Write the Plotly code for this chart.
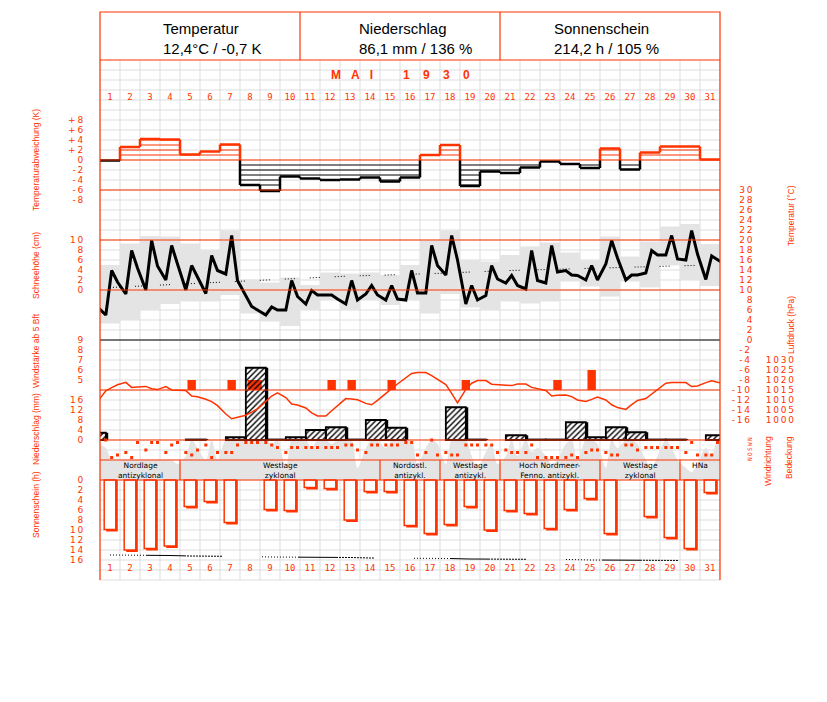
import plotly.graph_objects as go

RED = "#ff3300"
GRID = "#dddddd"
FILLGRAY = "#e4e4e4"
NB = "\u00a0"
THIN = "\u2009"
FIG = "\u2007"

# ------------------------------------------------------------------ data
days = list(range(1, 32))
day_labels = [str(d) for d in days]
obs_hours = [7, 14, 21]

header_titles = ["Temperatur", "Niederschlag", "Sonnenschein"]
header_values = ["12,4°C / -0,7 K", "86,1 mm / 136 %", "214,2 h / 105 %"]
month_title = ("MAI", "1930")

# daily temperature deviation (K)
temp_dev = [-0.1, 2.6, 4.2, 4.1, 1.1, 1.7, 3.1, -5.0, -6.2, -3.3, -3.7, -4.0, -3.9, -3.5, -4.3,
            -3.5, 1.0, 3.0, -5.2, -2.3, -2.6, -1.5, -0.3, -0.8, -1.6, 2.3, -1.9, 1.5, 2.7, 2.7, 0.1]

# air temperature at 7, 14, 21 h (°C)
t07 = [5.0, 9.2, 10.0, 12.0, 10.0, 9.3, 13.2, 8.9, 5.0, 6.0, 7.2, 9.0, 7.2, 9.2, 8.0, 8.0,
       9.4, 13.0, 7.2, 8.9, 11.4, 10.2, 11.4, 13.9, 12.0, 15.2, 12.0, 13.4, 17.0, 16.0, 12.1]
t14 = [13.9, 17.9, 19.9, 18.9, 14.9, 16.9, 20.9, 6.7, 6.6, 11.9, 9.9, 9.0, 11.9, 10.9, 10.9, 13.9,
       18.9, 20.9, 10.9, 14.9, 12.9, 17.9, 18.9, 13.0, 14.9, 19.9, 13.0, 17.9, 20.9, 21.9, 16.8]
t21 = [11.6, 14.4, 14.8, 15.2, 12.5, 13.9, 11.9, 6.0, 6.0, 8.7, 9.0, 8.2, 8.0, 9.0, 8.2, 9.4,
       14.9, 16.0, 8.0, 12.2, 10.9, 11.9, 13.6, 12.9, 12.0, 16.4, 13.0, 17.0, 16.2, 17.2, 16.0]
t_prev21 = 6.6   # 30 April, 21 h
t_next07 = 15.0  # 1 June, 7 h
tmax = [15.0, 19.3, 20.8, 20.7, 19.3, 18.0, 21.9, 12.1, 11.5, 12.5, 11.0, 13.5, 13.3, 13.5, 13.0, 15.0,
        19.9, 21.9, 16.0, 15.7, 17.0, 18.7, 19.5, 17.5, 15.9, 20.7, 16.7, 19.7, 22.7, 23.2, 19.2]
tmin = [3.3, 4.0, 6.0, 7.2, 7.7, 7.7, 9.0, 5.3, 3.7, 2.8, 6.0, 8.0, 6.0, 8.0, 7.0, 8.0,
        5.3, 9.2, 6.5, 6.0, 7.7, 7.3, 7.7, 11.7, 10.7, 8.7, 11.7, 10.5, 14.9, 12.0, 10.8]
t_normal = [10.5, 10.7, 10.9, 11.0, 11.2, 11.4, 11.6, 11.8, 12.0, 12.2, 12.4, 12.6, 12.8, 12.9, 13.0, 13.2,
            13.3, 13.4, 13.6, 13.8, 13.9, 14.0, 14.1, 14.2, 14.4, 14.5, 14.6, 14.7, 14.8, 14.9, 15.0]

# air pressure at 7, 14, 21 h (hPa)
p07 = [1014.6, 1018.8, 1016.8, 1016.7, 1014.7, 1010.4, 1003.0, 1002.4, 1009.3, 1011.2, 1006.0, 1002.0,
       1010.7, 1008.3, 1013.0, 1021.2, 1023.7, 1017.7, 1015.3, 1019.7, 1017.2, 1018.0, 1014.8, 1012.5,
       1009.3, 1010.0, 1005.3, 1010.7, 1018.4, 1018.7, 1018.7]
p14 = [1016.2, 1016.3, 1015.6, 1015.0, 1012.0, 1009.2, 1000.6, 1003.9, 1012.0, 1008.0, 1003.6, 1004.6,
       1010.5, 1007.6, 1015.7, 1023.3, 1022.2, 1013.3, 1018.4, 1017.9, 1017.2, 1016.3, 1012.0, 1011.7,
       1010.3, 1007.6, 1007.7, 1012.9, 1018.7, 1016.7, 1019.6]
p21 = [1017.6, 1016.5, 1015.2, 1014.9, 1011.6, 1007.2, 1001.5, 1005.6, 1013.6, 1007.5, 1002.0, 1007.3,
       1010.1, 1009.8, 1018.0, 1023.7, 1020.5, 1008.6, 1019.7, 1017.6, 1018.0, 1015.6, 1012.4, 1010.0,
       1011.5, 1006.2, 1009.8, 1015.3, 1018.7, 1017.0, 1018.9]
p_prev21 = 1009.2
p_next07 = 1018.0

# wind force >= 5 Bft (day, observation hour, Bft)
wind_day = [5, 7, 8, 8, 12, 13, 15, 19, 23, 25]
wind_hour = [14, 14, 14, 21, 14, 14, 14, 7, 21, 14]
wind_bft = [5, 5, 5, 5, 5, 5, 5, 5, 5, 6]

# precipitation (mm), period starting at 7 h of the given day (0 = 30 April)
precip_day = list(range(0, 32))
precip_mm = [2.9, 0, 0, 0, 0, 0.2, 0, 1.1, 28.9, 0.2, 1.1, 4.0, 5.1, 0.2, 8.0, 4.9,
             0, 0, 13.1, 0.2, 0, 1.9, 0.2, 0.2, 7.1, 1.1, 5.1, 3.1, 0.2, 0.2, 0, 1.9]

# wind direction at 7, 14, 21 h
wd07 = ["N", "SE", "S", "SE", "SE", "W", "SE", "NW", "NW", "SE", "SW", "SW", "W", "SE", "W", "NW",
        "SE", "SE", "W", "W", "S", "SE", "NE", "NE", "SE", "SE", "W", "SW", "SW", "SE", "E"]
wd14 = ["NE", "NE", "NW", "W", "E", "NE", "SE", "NW", "W", "SW", "SW", "SW", "W", "W", "W", "NW",
        "N", "E", "W", "W", "SE", "W", "NE", "E", "S", "E", "W", "SW", "SW", "NW", "E"]
wd21 = ["E", "NW", "NW", "NW", "S", "SE", "W", "NW", "SW", "SW", "SW", "SW", "S", "W", "W", "E",
        "E", "E", "W", "SE", "SE", "NE", "NE", "NE", "S", "E", "S", "SW", "SW", "E", "NW"]
compass_deg = {"N": 360, "NE": 45, "E": 90, "SE": 135, "S": 180, "SW": 225, "W": 270, "NW": 315}

# cloud cover (tenths) at 7, 14, 21 h
c07 = [8, 5, 5, 5, 6, 5, 10, 10, 10, 3, 10, 10, 10, 8, 8, 10, 8, 4, 10, 7, 6, 10, 6, 9, 10, 3, 10, 5, 10, 3, 8]
c14 = [5, 5, 5, 5, 10, 10, 10, 10, 9, 10, 8, 9, 10, 10, 10, 10, 10, 10, 6, 9, 10, 7, 4, 10, 10, 10, 10, 3, 8, 2, 6]
c21 = [5, 5, 5, 4, 8, 5, 10, 10, 10, 10, 10, 10, 3, 10, 10, 4, 9, 10, 3, 4, 6, 8, 5, 5, 9, 8, 9, 6, 5, 4, 10]
c_prev21 = 9
c_next07 = 10

# weather types
wt_start = [1, 5, 15, 18, 21, 26, 30]
wt_end = [4, 14, 17, 20, 25, 29, 31]
wt_line1 = ["Nordlage", "Westlage", "Nordostl.", "Westlage", "Hoch Nordmeer-", "Westlage", "HNa"]
wt_line2 = ["antizyklonal", "zyklonal", "antizykl.", "antizykl.", "Fenno. antizykl.", "zyklonal", ""]

# sunshine duration (h) and possible sunshine
sunshine = [9.9, 14.0, 13.7, 13.2, 5.3, 4.3, 8.5, 0, 5.9, 6.1, 1.5, 1.7, 8.0, 2.3, 2.3, 9.1,
            10.7, 8.9, 5.3, 10.0, 6.1, 6.7, 9.7, 5.9, 3.7, 10.7, 0, 7.3, 11.5, 13.7, 2.5]
sun_normal = [15.0, 15.0, 15.1, 15.1, 15.2, 15.2, 15.3, 15.3, 15.4, 15.4, 15.4, 15.5, 15.5, 15.6, 15.6, 15.6,
              15.7, 15.7, 15.8, 15.8, 15.8, 15.9, 15.9, 15.9, 16.0, 16.0, 16.0, 16.1, 16.1, 16.1, 16.2]

# axis ticks
dev_ticks = [8, 6, 4, 2, 0, -2, -4, -6, -8]
dev_ticktext = ["+8", "+6", "+4", "+2", "0", "-2", "-4", "-6", "-8"]
snow_ticks = [0, 2, 4, 6, 8, 10]
wind_ticks = [5, 6, 7, 8, 9]
precip_ticks = [0, 4, 8, 12, 16]
sun_ticks = [0, 2, 4, 6, 8, 10, 12, 14, 16]
temp_ticks = list(range(30, -17, -2))
press_ticks = [1000, 1005, 1010, 1015, 1020, 1025, 1030]
dir_ticks = [0, 90, 180, 270, 360]
dir_ticktext = ["N", "O", "S", "W", "N"]

# ------------------------------------------------------------------ layout geometry
OFF = 8                            # page body margin
W, H = 827 - OFF, 702 - OFF         # figure size
L, R, T, B = 100, 720, 12, 580      # plot area in page pixels


def pxp(x):  # page pixel x -> paper
    return (x - L) / (R - L)


def pyp(y):  # page pixel y -> paper
    return (B - y) / (B - T)


def prange(p_ref, v_ref, px_per_unit):
    return [v_ref + (p_ref - B) / px_per_unit, v_ref + (p_ref - T) / px_per_unit]


def obs_x(day, hour):
    return day - 0.5 + hour / 24


def spaced(s, width=0):
    s = str(s)
    s = FIG * max(0, width - len(s)) + s
    return THIN.join(s)


# ------------------------------------------------------------------ traces
fig = go.Figure()

# cloud cover
cx, cy = [obs_x(0, 21)], [c_prev21]
for i, d in enumerate(days):
    for h, arr in zip(obs_hours, (c07, c14, c21)):
        cx.append(obs_x(d, h))
        cy.append(arr[i])
cx.append(obs_x(32, 7))
cy.append(c_next07)
fig.add_trace(go.Scatter(x=cx, y=cy, mode="lines", line=dict(width=0, shape="spline", smoothing=0.9),
                         fill="tozeroy", fillcolor=FILLGRAY, yaxis="y", hoverinfo="skip"))

# temperature range boxes, normal, observations
fig.add_trace(go.Bar(x=days, y=[a - b for a, b in zip(tmax, tmin)], base=tmin, width=1,
                     marker=dict(color=FILLGRAY, line=dict(width=0)), yaxis="y2", hoverinfo="skip"))
fig.add_trace(go.Scatter(x=days, y=t_normal, mode="lines", yaxis="y2",
                         line=dict(color="black", width=1, dash="1px,2px,1px,2px,1px,2px,1px,15px")))
tx, ty = [obs_x(0, 21)], [t_prev21]
for i, d in enumerate(days):
    for h, arr in zip(obs_hours, (t07, t14, t21)):
        tx.append(obs_x(d, h))
        ty.append(arr[i])
tx.append(obs_x(32, 7))
ty.append(t_next07)
fig.add_trace(go.Scatter(x=tx, y=ty, mode="lines", line=dict(color="black", width=3), yaxis="y2"))

# snow depth axis (no snow)
fig.add_trace(go.Scatter(x=[], y=[], yaxis="y3", showlegend=False))

# temperature deviation steps
rx, ry, bx, by = [], [], [], []
hrx, hry, hbx, hby = [], [], [], []


def seg(xs, ys, x0, y0, x1, y1):
    xs += [x0, x1, None]
    ys += [y0, y1, None]


for i, v in enumerate(temp_dev):
    d = days[i]
    pos = v > 0
    seg(rx if pos else bx, ry if pos else by, d - 0.5, v, d + 0.5, v)
    sgn = 1 if pos else -1
    for k in range(1, int(abs(v)) + 1):
        seg(hrx if pos else hbx, hry if pos else hby, d - 0.5, sgn * k, d + 0.5, sgn * k)
    if i + 1 < len(temp_dev):
        w = temp_dev[i + 1]
        b = d + 0.5
        if v * w < 0:
            seg(rx if v > 0 else bx, ry if v > 0 else by, b, v, b, 0)
            seg(rx if w > 0 else bx, ry if w > 0 else by, b, 0, b, w)
        else:
            p = (v + w) > 0
            seg(rx if p else bx, ry if p else by, b, v, b, w)

fig.add_trace(go.Scatter(x=hrx, y=hry, mode="lines", line=dict(color=RED, width=1), yaxis="y4"))
fig.add_trace(go.Scatter(x=hbx, y=hby, mode="lines", line=dict(color="black", width=1), yaxis="y4"))
fig.add_trace(go.Scatter(x=rx, y=ry, mode="lines", line=dict(color=RED, width=2.5), yaxis="y4"))
fig.add_trace(go.Scatter(x=bx, y=by, mode="lines", line=dict(color="black", width=2.5), yaxis="y4"))

# precipitation: shadow + white underlay
px_ = [k + 7 / 24 for k in precip_day]
py_ = [v if v > 0 else None for v in precip_mm]
fig.add_trace(go.Bar(x=[x + 0.12 for x in px_], y=py_, width=1, yaxis="y5",
                     marker=dict(color="black", line=dict(width=0))))
fig.add_trace(go.Bar(x=px_, y=py_, width=1, yaxis="y5",
                     marker=dict(color="white", line=dict(width=0))))

# wind force bars
fig.add_trace(go.Bar(x=[obs_x(d, h) for d, h in zip(wind_day, wind_hour)],
                     y=[b - 4 for b in wind_bft], base=4, width=0.42, yaxis="y6",
                     marker=dict(color=RED, line=dict(width=0))))

# precipitation hatch + outline
fig.add_trace(go.Bar(x=px_, y=py_, width=1, yaxis="y7",
                     marker=dict(color="rgba(0,0,0,0)", line=dict(color="black", width=1.8),
                                 pattern=dict(shape="/", fgcolor="black", bgcolor="rgba(0,0,0,0)",
                                              size=4, solidity=0.35))))

# pressure
ppx, ppy = [obs_x(0, 21)], [p_prev21]
for i, d in enumerate(days):
    for h, arr in zip(obs_hours, (p07, p14, p21)):
        ppx.append(obs_x(d, h))
        ppy.append(arr[i])
ppx.append(obs_x(32, 7))
ppy.append(p_next07)
fig.add_trace(go.Scatter(x=ppx, y=ppy, mode="lines", line=dict(color=RED, width=1.5), yaxis="y8"))

# wind direction
wx, wy = [], []
for i, d in enumerate(days):
    for h, arr in zip(obs_hours, (wd07, wd14, wd21)):
        wx.append(obs_x(d, h))
        wy.append(compass_deg[arr[i]])
fig.add_trace(go.Scatter(x=wx, y=wy, mode="markers", yaxis="y9",
                         marker=dict(symbol="square", size=3, color=RED, line=dict(width=0))))

# sunshine
sy = [v if v > 0 else None for v in sunshine]
fig.add_trace(go.Bar(x=[d + 0.1 for d in days], y=[v + 0.4 if v else None for v in sy], width=0.58,
                     yaxis="y10", marker=dict(color=RED, line=dict(width=0))))
fig.add_trace(go.Bar(x=days, y=sy, width=0.58, yaxis="y10",
                     marker=dict(color="white", line=dict(color=RED, width=1.5))))
fig.add_trace(go.Scatter(x=days, y=sun_normal, mode="lines", yaxis="y10",
                         line=dict(color="black", width=1,
                                   dash=",".join(["1px,2px"] * 12) + ",40px")))

# day label axes
fig.add_trace(go.Scatter(x=[], y=[], xaxis="x2", yaxis="y"))
fig.add_trace(go.Scatter(x=[], y=[], xaxis="x3", yaxis="y"))

# ------------------------------------------------------------------ axes
TICKFONT = dict(family="DejaVu Sans", size=9, color=RED)


def yax(rng, ticks=None, text=None, side="left", standoff=15, font=TICKFONT, overlay=True, **kw):
    d = dict(range=rng, domain=[0, 1], showgrid=False, zeroline=False, showline=False,
             fixedrange=True, automargin=False)
    if overlay:
        d["overlaying"] = "y"
    if ticks is None:
        d.update(showticklabels=False, ticks="")
    else:
        d.update(tickmode="array", tickvals=ticks,
                 ticktext=text if text else [spaced(t) for t in ticks],
                 side=side, anchor="free", position=0 if side == "left" else 1,
                 ticks="outside", ticklen=standoff, tickcolor="rgba(0,0,0,0)", tickfont=font)
    d.update(kw)
    return d


temp_text = [spaced(t, 3) for t in temp_ticks]
dev_text = [spaced(t) for t in dev_ticktext]

xcommon = dict(range=[0.5, 31.5], showgrid=False, zeroline=False, showline=False,
               fixedrange=True, automargin=False)
DAYFONT = dict(family="DejaVu Sans Mono", size=9, color=RED)
layout = dict(
    width=W, height=H, autosize=False, template="none",
    margin=dict(l=L - OFF, r=W - (R - OFF), t=T - OFF, b=H - (B - OFF), pad=0),
    paper_bgcolor="white", plot_bgcolor="white", showlegend=False, barmode="overlay",
    xaxis=dict(**xcommon, visible=False),
    xaxis2=dict(**xcommon, overlaying="x", side="top", anchor="free", position=pyp(102),
                tickmode="array", tickvals=days, ticktext=day_labels, ticks="", tickfont=DAYFONT),
    xaxis3=dict(**xcommon, overlaying="x", side="bottom", anchor="free", position=pyp(561),
                tickmode="array", tickvals=days, ticktext=day_labels, ticks="", tickfont=DAYFONT),
    yaxis=yax(prange(480, 0, 4), overlay=False),
    yaxis2=yax(prange(340, 0, 5), temp_ticks, temp_text, side="right", standoff=9),
    yaxis3=yax(prange(290, 0, 5), snow_ticks),
    yaxis4=yax(prange(160, 0, 5), dev_ticks, dev_text),
    yaxis5=yax(prange(440, 0, 2.5)),
    yaxis6=yax(prange(390, 4, 10), wind_ticks),
    yaxis7=yax(prange(440, 0, 2.5), precip_ticks),
    yaxis8=yax(prange(390, 1015, 2), press_ticks, side="right", standoff=43),
    yaxis9=yax(prange(460, 0, 20 / 360), dir_ticks, dir_ticktext, side="right", standoff=24,
               font=dict(family="DejaVu Sans Mono", size=6, color=RED), tickangle=-90),
    yaxis10=yax(prange(480, 0, -5), sun_ticks),
)
fig.update_layout(**layout)

# ------------------------------------------------------------------ shapes
shapes = []
for i in range(len(days) + 1):
    shapes.append(dict(type="line", xref="x", yref="paper", x0=0.5 + i, x1=0.5 + i,
                       y0=pyp(60), y1=pyp(B), line=dict(color=GRID, width=1), layer="below"))
for yy in range(70, B + 1, 10):
    shapes.append(dict(type="line", xref="paper", yref="paper", x0=0, x1=1, y0=pyp(yy), y1=pyp(yy),
                       line=dict(color=GRID, width=1), layer="below"))
shapes.append(dict(type="rect", xref="paper", yref="y", x0=0, x1=1, y0=0, y1=5,
                   fillcolor="white", line=dict(width=0), layer="below"))
# reference lines
ref = [("y4", 0, RED), ("y4", -6, RED), ("y2", 20, RED), ("y2", 10, RED), ("y2", 0, "black"),
       ("y8", 1015, RED), ("y7", 0, RED), ("y", 5, RED), ("y", 0, RED)]
for yr, v, col in ref:
    shapes.append(dict(type="line", xref="paper", yref=yr, x0=0, x1=1, y0=v, y1=v,
                       line=dict(color=col, width=1.2), layer="above"))
# weather type separators
for s in wt_start[1:]:
    shapes.append(dict(type="line", xref="x", yref="y", x0=s - 0.5, x1=s - 0.5, y0=0, y1=5,
                       line=dict(color=RED, width=1.2), layer="above"))
# frame and header
shapes.append(dict(type="rect", xref="paper", yref="paper", x0=0, x1=1, y0=pyp(60), y1=pyp(T),
                   line=dict(color=RED, width=1.2), layer="above"))
for xx in (300, 500):
    shapes.append(dict(type="line", xref="paper", yref="paper", x0=pxp(xx), x1=pxp(xx),
                       y0=pyp(60), y1=pyp(T), line=dict(color=RED, width=1.2), layer="above"))
for xx in (0, 1):
    shapes.append(dict(type="line", xref="paper", yref="paper", x0=xx, x1=xx, y0=0, y1=pyp(60),
                       line=dict(color=RED, width=1.2), layer="above"))
fig.update_layout(shapes=shapes)

# ------------------------------------------------------------------ annotations
ann = []
HFONT = dict(family="Liberation Sans", size=15, color="black")
for cx0, t1, t2 in zip((162, 358, 553), header_titles, header_values):
    ann.append(dict(xref="paper", yref="paper", x=pxp(cx0), y=pyp(39), text=t1 + "<br>" + t2,
                    showarrow=False, xanchor="left", yanchor="middle", align="left", font=HFONT,
                    borderpad=0))
mt = (NB * 3).join(month_title[0]) + NB * 9 + (NB * 4).join(month_title[1])
ann.append(dict(xref="paper", yref="paper", x=pxp(400), y=pyp(75), text=mt, showarrow=False,
                xanchor="center", yanchor="middle",
                font=dict(family="Liberation Sans", size=12, color=RED, weight="bold")))

TFONT = dict(family="Liberation Sans", size=8.5, color=RED)
titles = [("Temperaturabweichung (K)", 36, 160), ("Schneehöhe (cm)", 36, 266),
          ("Windstärke ab 5 Bft", 36, 351), ("Niederschlag (mm)", 36, 429),
          ("Sonnenschein (h)", 36, 505), ("Temperatur (°C)", 791, 216),
          ("Luftdruck (hPa)", 791, 325), ("Windrichtung", 768, 461), ("Bedeckung", 789, 458)]
for txt, xx, yy in titles:
    ann.append(dict(xref="paper", yref="paper", x=pxp(xx), y=pyp(yy), text=txt, showarrow=False,
                    textangle=-90, xanchor="center", yanchor="middle", font=TFONT, borderpad=0))

BFONT = dict(family="DejaVu Sans", size=7.5, color="black")
for s, e, l1, l2 in zip(wt_start, wt_end, wt_line1, wt_line2):
    xc = (s + e) / 2
    txt = l1 + ("<br>" + l2 if l2 else "")
    yy = 470 if l2 else 466
    ann.append(dict(xref="x", yref="paper", x=xc, y=pyp(yy), text=txt, showarrow=False,
                    xanchor="center", yanchor="middle", font=BFONT, borderpad=0))
fig.update_layout(annotations=ann)

fig.write_html("out.html")
